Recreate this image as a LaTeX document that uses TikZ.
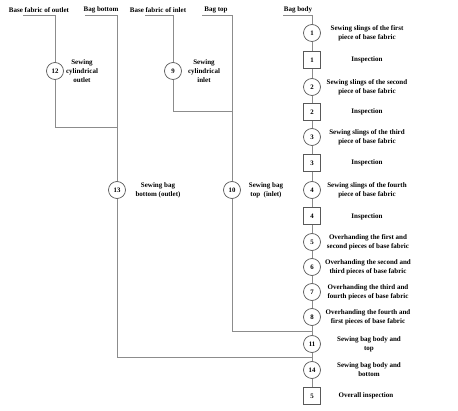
\documentclass[tikz,border=0pt]{standalone}
\usepackage{fontspec}
\setmainfont{Liberation Serif}
\begin{document}
\begin{tikzpicture}[x=1pt,y=-1pt,
  ln/.style={draw=black!45,line width=0.9pt},
  cnode/.style={circle,draw=black!65,line width=0.7pt,fill=white,minimum size=17pt,inner sep=0pt,font=\bfseries\fontsize{6.8}{7}\selectfont},
  snode/.style={rectangle,draw=black!65,line width=0.7pt,fill=white,minimum size=17pt,inner sep=0pt,font=\bfseries\fontsize{6.8}{7}\selectfont},
  lab/.style={align=center,inner sep=0pt,font=\bfseries\fontsize{7}{9}\selectfont},
]
\useasboundingbox (0,0) rectangle (458,411);
% top labels
\node[lab] (tbo) at (39,10) {Base fabric of outlet};
\node[lab] (tbb) at (101,10) {Bag bottom};
\node[lab] (tbi) at (158,10) {Base fabric of inlet};
\node[lab] (tbt) at (216,10) {Bag top};
\node[lab] (tbd) at (298,10) {Bag body};
\coordinate (uo) at (23,15);
\coordinate (ub) at (85,15);
\coordinate (ui) at (145,15);
\coordinate (ut) at (202,15);
\coordinate (ud) at (283,15);
% side circles
\node[cnode] (c12) at (55,71) {12};
\node[cnode] (c9) at (173,71) {9};
\node[cnode] (c13) at (117,190) {13};
\node[cnode] (c10) at (232,190) {10};
\node[lab] at (82,71) {Sewing\\cylindrical\\outlet};
\node[lab] at (204,71) {Sewing\\cylindrical\\inlet};
\node[lab] at (158,190) {Sewing bag\\bottom (outlet)};
\node[lab] at (266,190) {Sewing bag\\top~~(inlet)};
% main column
\node[cnode] (m1) at (312,33) {1};
\node[snode] (s1) at (312,60) {1};
\node[cnode] (m2) at (312,87) {2};
\node[snode] (s2) at (312,112) {2};
\node[cnode] (m3) at (312,137) {3};
\node[snode] (s3) at (312,163) {3};
\node[cnode] (m4) at (312,190) {4};
\node[snode] (s4) at (312,216) {4};
\node[cnode] (m5) at (312,242) {5};
\node[cnode] (m6) at (312,267) {6};
\node[cnode] (m7) at (312,292) {7};
\node[cnode] (m8) at (312,317) {8};
\node[cnode] (m11) at (312,344) {11};
\node[cnode] (m14) at (312,370) {14};
\node[snode] (s5) at (312,396) {5};
\coordinate (j10) at (312,331);
\coordinate (j13) at (312,357);
\coordinate (k12) at (55,127);
\coordinate (k9) at (173,111);
\coordinate (k10) at (232,331);
\coordinate (k13) at (117,357);
% right labels
\node[lab] at (367,33) {Sewing slings of the first\\piece of base fabric};
\node[lab] at (367,60) {Inspection};
\node[lab] at (367,87) {Sewing slings of the second\\piece of base fabric};
\node[lab] at (367,112) {Inspection};
\node[lab] at (367,137) {Sewing slings of the third\\piece of base fabric};
\node[lab] at (367,163) {Inspection};
\node[lab] at (367,190) {Sewing slings of the fourth\\piece of base fabric};
\node[lab] at (367,217) {Inspection};
\node[lab] at (368,242) {Overhanding the first and\\second pieces of base fabric};
\node[lab] at (368,267) {Overhanding the second and\\third pieces of base fabric};
\node[lab] at (368,292) {Overhanding the third and\\fourth pieces of base fabric};
\node[lab] at (368,317) {Overhanding the fourth and\\first pieces of base fabric};
\node[lab] at (369,344) {Sewing bag body and\\top};
\node[lab] at (369,370) {Sewing bag body and\\bottom};
\node[lab] at (366,396) {Overall inspection};
% connectors
\draw[ln] (uo) -- (uo -| c12) -- (c12);
\draw[ln] (c12) -- (k12) -- (k12 -| c13);
\draw[ln] (ub) -- (ub -| c13) -- (c13);
\draw[ln] (c13) -- (k13) -- (j13);
\draw[ln] (ui) -- (ui -| c9) -- (c9);
\draw[ln] (c9) -- (k9) -- (k9 -| c10);
\draw[ln] (ut) -- (ut -| c10) -- (c10);
\draw[ln] (c10) -- (k10) -- (j10);
\draw[ln] (ud) -- (ud -| m1) -- (m1);
\draw[ln] (m1) -- (s1);
\draw[ln] (s1) -- (m2);
\draw[ln] (m2) -- (s2);
\draw[ln] (s2) -- (m3);
\draw[ln] (m3) -- (s3);
\draw[ln] (s3) -- (m4);
\draw[ln] (m4) -- (s4);
\draw[ln] (s4) -- (m5);
\draw[ln] (m5) -- (m6);
\draw[ln] (m6) -- (m7);
\draw[ln] (m7) -- (m8);
\draw[ln] (m8) -- (m11);
\draw[ln] (m11) -- (m14);
\draw[ln] (m14) -- (s5);
\end{tikzpicture}
\end{document}
